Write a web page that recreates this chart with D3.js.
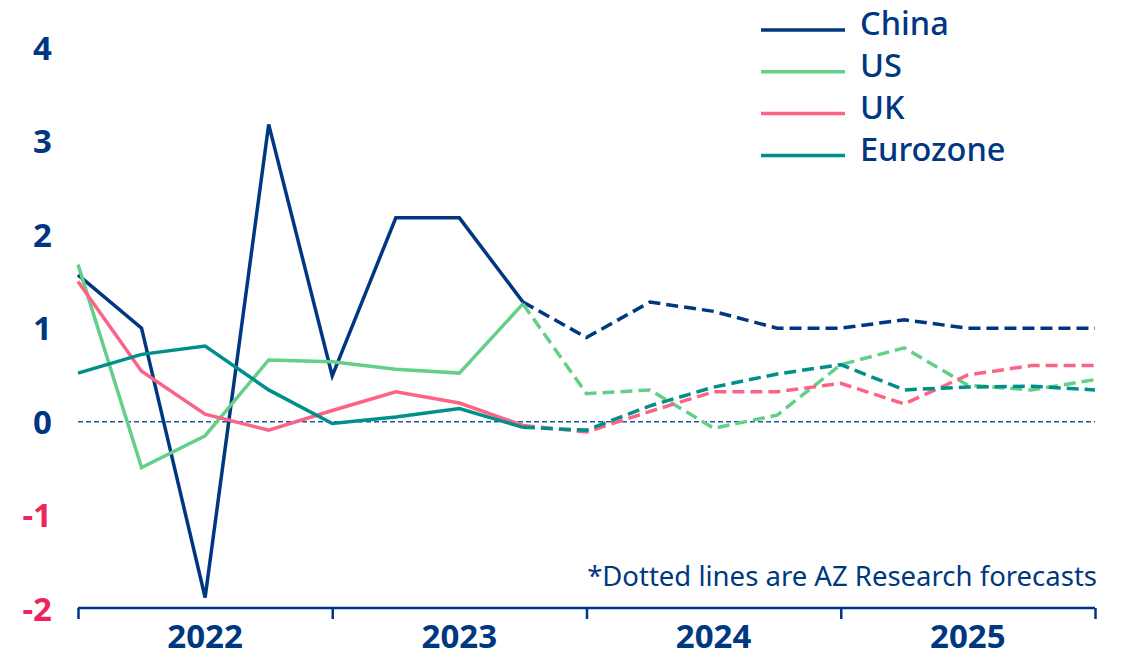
<!DOCTYPE html>
<html>
<head>
<meta charset="utf-8">
<script src="https://cdn.jsdelivr.net/npm/d3@7"></script>
<style>
  body { margin: 0; background: #fff; }
  text { font-family: "Noto Sans", sans-serif; }
</style>
</head>
<body>
<div id="graph"></div>
<script>
// quarterly values, Q1 2022 .. Q1 2026 (index 0..16); forecasts start at index 7
var china    = [1.57, 1.0, -1.88, 3.18, 0.49, 2.18, 2.18, 1.28, 0.90, 1.28, 1.18, 1.0, 1.0, 1.09, 1.0, 1.0, 1.0];
var us       = [1.68, -0.49, -0.15, 0.66, 0.64, 0.56, 0.52, 1.26, 0.30, 0.34, -0.07, 0.07, 0.61, 0.79, 0.39, 0.34, 0.45];
var uk       = [1.50, 0.54, 0.08, -0.09, 0.12, 0.32, 0.20, -0.04, -0.11, 0.11, 0.32, 0.32, 0.41, 0.19, 0.50, 0.60, 0.60];
var eurozone = [0.52, 0.72, 0.81, 0.34, -0.02, 0.05, 0.14, -0.06, -0.09, 0.17, 0.37, 0.51, 0.61, 0.34, 0.37, 0.38, 0.34];
var forecastStart = 7;

var years = ["2022", "2023", "2024", "2025"];
var yTicks = [-2, -1, 0, 1, 2, 3, 4];

var series = [
  { name: "China", values: china, color: "#003781" },
  { name: "US", values: us, color: "#64cf88" },
  { name: "UK", values: uk, color: "#fb6486" },
  { name: "Eurozone", values: eurozone, color: "#008f8a" },
];

var width = 1125, height = 657;
var svg = d3.select("#graph").append("svg").attr("width", width).attr("height", height);

var x = d3.scaleLinear().domain([0, 16]).range([78, 1095]);
var y = d3.scaleLinear().domain([-2, 4]).range([608.7, 47.7]);

// y labels
svg.append("g").selectAll("text").data(yTicks).join("text")
  .attr("x", 52)
  .attr("y", d => y(d))
  .attr("dy", "0.36em")
  .attr("text-anchor", "end")
  .attr("font-size", 33)
  .attr("font-weight", "bold")
  .attr("fill", d => d < 0 ? "#f0245c" : "#003781")
  .text(d => d);

// zero line
svg.append("line")
  .attr("x1", x(0)).attr("x2", x(16))
  .attr("y1", y(0)).attr("y2", y(0))
  .attr("stroke", "#1a5c9a").attr("stroke-width", 1.5)
  .attr("stroke-dasharray", "5,3");

// x axis
var xAxis = d3.axisBottom(x).tickValues([0, 4, 8, 12, 16]).tickSize(11).tickFormat("");
var ax = svg.append("g").attr("transform", "translate(0," + 608 + ")").call(xAxis);
ax.select(".domain").attr("stroke", "#003781").attr("stroke-width", 2.5).attr("d", "M" + x(0) + ",0H" + x(16));
ax.selectAll(".tick line").attr("stroke", "#003781").attr("stroke-width", 2.5);

svg.append("g").selectAll("text").data(years).join("text")
  .attr("x", (d, i) => x(i * 4 + 2))
  .attr("y", 648)
  .attr("text-anchor", "middle")
  .attr("font-size", 33)
  .attr("font-weight", "bold")
  .attr("fill", "#003781")
  .text(d => d);

var line = d3.line().x(d => x(d.i)).y(d => y(d.v));

series.forEach(function (s) {
  var pts = s.values.map((v, i) => ({ i: i, v: v }));
  svg.append("path")
    .attr("d", line(pts.filter(d => d.i >= forecastStart)))
    .attr("fill", "none").attr("stroke", s.color).attr("stroke-width", 3.5)
    .attr("stroke-dasharray", "12,6");
  svg.append("path")
    .attr("d", line(pts.filter(d => d.i <= forecastStart)))
    .attr("fill", "none").attr("stroke", s.color).attr("stroke-width", 3.5)
    .attr("stroke-linejoin", "miter");
});

// legend
var lg = svg.append("g").selectAll("g").data(series).join("g")
  .attr("transform", (d, i) => "translate(761," + (30 + i * 41.8) + ")");
lg.append("line").attr("x1", 0).attr("x2", 84)
  .attr("stroke", d => d.color).attr("stroke-width", 3.5);
lg.append("text").attr("x", 99).attr("y", 2).attr("dy", "0.1em")
  .attr("font-size", 32.5).attr("font-weight", 500).attr("fill", "#003781")
  .text(d => d.name);

svg.append("text")
  .attr("x", 1097).attr("y", 586)
  .attr("text-anchor", "end")
  .attr("font-size", 27.5)
  .attr("fill", "#003781")
  .text("*Dotted lines are AZ Research forecasts");
</script>
</body>
</html>
